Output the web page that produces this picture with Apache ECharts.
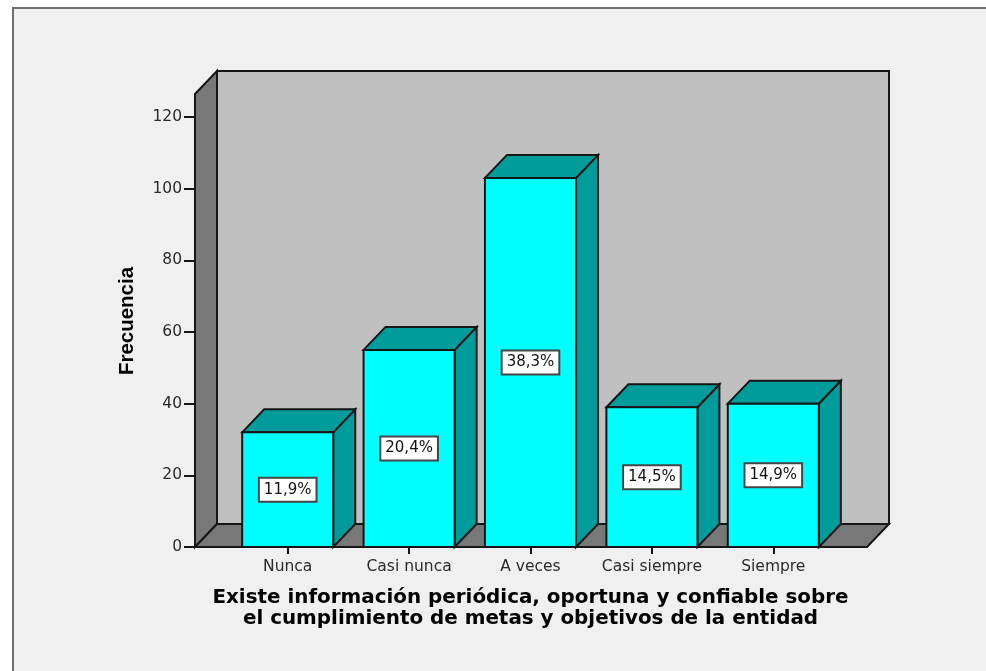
<!DOCTYPE html>
<html>
<head>
<meta charset="utf-8">
<style>html,body{margin:0;padding:0;background:#fff}#chart{width:986px;height:671px}</style>
<script src="https://cdn.jsdelivr.net/npm/echarts@6/dist/echarts.min.js"></script>
</head>
<body>
<div id="chart"></div>
<script>
// Frequency bars with percentage tags
const categories = ['Nunca', 'Casi nunca', 'A veces', 'Casi siempre', 'Siempre'];
const frequencies = [32, 55, 103, 39, 40];
const percentLabels = ['11,9%', '20,4%', '38,3%', '14,5%', '14,9%'];
const axisTicks = [0, 20, 40, 60, 80, 100, 120];

const axisTitleX = 'Existe información periódica, oportuna y confiable sobre\nel cumplimiento de metas y objetivos de la entidad';
const axisTitleY = 'Frecuencia';

const INK = '#161616';
const DEPTH_X = 22;      // oblique offset of the 3D box
const DEPTH_Y = 23;
const SIDE_PAD = 32;     // room between the outer categories and the box walls
const TICK_FONT = '"DejaVu Sans", sans-serif';

const chart = echarts.init(document.getElementById('chart'), null, { renderer: 'canvas' });

// Walls and floor of the box, placed around the grid rectangle
function renderBox(params, api) {
  const c = params.coordSys;
  const l = c.x - SIDE_PAD, r = c.x + c.width + SIDE_PAD + 1;
  const b = c.y + c.height, t = c.y - DEPTH_Y;
  const face = (pts, fill) => ({
    type: 'polygon', shape: { points: pts },
    style: { fill, stroke: INK, lineWidth: 2, lineJoin: 'miter' }
  });
  return {
    type: 'group', silent: true,
    children: [
      face([[l + DEPTH_X, t - DEPTH_Y], [r + DEPTH_X, t - DEPTH_Y], [r + DEPTH_X, b - DEPTH_Y], [l + DEPTH_X, b - DEPTH_Y]], '#c0c0c0'),
      face([[l, t], [l + DEPTH_X, t - DEPTH_Y], [l + DEPTH_X, b - DEPTH_Y], [l, b]], '#787878'),
      face([[l, b], [l + DEPTH_X, b - DEPTH_Y], [r + DEPTH_X, b - DEPTH_Y], [r, b]], '#787878')
    ]
  };
}

// One extruded bar with its percentage tag centred on the front face
function renderBar(params, api) {
  const idx = api.value(0);
  const top = api.coord([idx, api.value(1)]);
  const base = api.coord([idx, 0]);
  const w = api.size([1, 0])[0] * 0.75;
  const x0 = top[0] - w / 2, x1 = top[0] + w / 2;
  const face = (pts, fill) => ({
    type: 'polygon', shape: { points: pts },
    style: { fill, stroke: INK, lineWidth: 2, lineJoin: 'miter' }
  });
  return {
    type: 'group',
    children: [
      face([[x1, top[1]], [x1 + DEPTH_X, top[1] - DEPTH_Y], [x1 + DEPTH_X, base[1] - DEPTH_Y], [x1, base[1]]], '#009c9c'),
      face([[x0, top[1]], [x0 + DEPTH_X, top[1] - DEPTH_Y], [x1 + DEPTH_X, top[1] - DEPTH_Y], [x1, top[1]]], '#009c9c'),
      face([[x0, top[1]], [x1, top[1]], [x1, base[1]], [x0, base[1]]], '#00ffff'),
      {
        type: 'text',
        x: top[0],
        y: (top[1] + base[1]) / 2,
        style: {
          text: percentLabels[params.dataIndex],
          align: 'center', verticalAlign: 'middle',
          font: '15px ' + TICK_FONT,
          fill: '#111',
          backgroundColor: '#fff',
          borderColor: '#444',
          borderWidth: 2,
          padding: [4, 4, 3, 4]
        }
      }
    ]
  };
}

chart.setOption({
  animation: false,
  backgroundColor: 'transparent',
  graphic: [
    {
      type: 'rect', z: -10, silent: true,
      shape: { x: 13, y: 8, width: 1000, height: 700 },
      style: { fill: '#f0f0f0', stroke: '#707070', lineWidth: 2 }
    },
    {
      type: 'text', z: 10, silent: true,
      x: 127, y: 321, rotation: Math.PI / 2,
      style: {
        text: axisTitleY, align: 'center', verticalAlign: 'middle',
        font: 'bold 20.5px "Liberation Sans", Arial, sans-serif', fill: '#000'
      }
    }
  ],
  grid: { left: 227, top: 117, width: 607, height: 430 },
  xAxis: {
    type: 'category',
    data: categories,
    axisLine: { show: false },
    axisTick: { show: true, alignWithLabel: true, length: 7, lineStyle: { color: INK, width: 2 } },
    axisLabel: { margin: 12, fontFamily: 'DejaVu Sans', fontSize: 15.5, color: '#2a2a2a', interval: 0 },
    name: axisTitleX,
    nameLocation: 'middle',
    nameGap: 40,
    nameTextStyle: { fontFamily: 'DejaVu Sans', fontWeight: 'bold', fontSize: 19.9, lineHeight: 21, color: '#000', verticalAlign: 'top' }
  },
  yAxis: {
    type: 'value',
    min: axisTicks[0],
    max: axisTicks[axisTicks.length - 1],
    interval: axisTicks[1] - axisTicks[0],
    offset: SIDE_PAD,
    splitLine: { show: false },
    axisLine: { show: false },
    axisTick: { show: true, length: 11, lineStyle: { color: INK, width: 2 } },
    axisLabel: { margin: 13, fontFamily: 'DejaVu Sans', fontSize: 15.5, color: '#2a2a2a', padding: [2, 0, 0, 0] }
  },
  series: [
    {
      type: 'custom', name: 'Caja', silent: true, clip: false, z: 1,
      renderItem: renderBox, data: [0],
      encode: { x: -1, y: -1 }
    },
    {
      type: 'custom', name: 'Frecuencia', silent: true, clip: false, z: 2,
      renderItem: renderBar,
      data: frequencies.map((v, i) => [i, v]),
      encode: { x: 0, y: 1 }
    }
  ]
});
</script>
</body>
</html>
